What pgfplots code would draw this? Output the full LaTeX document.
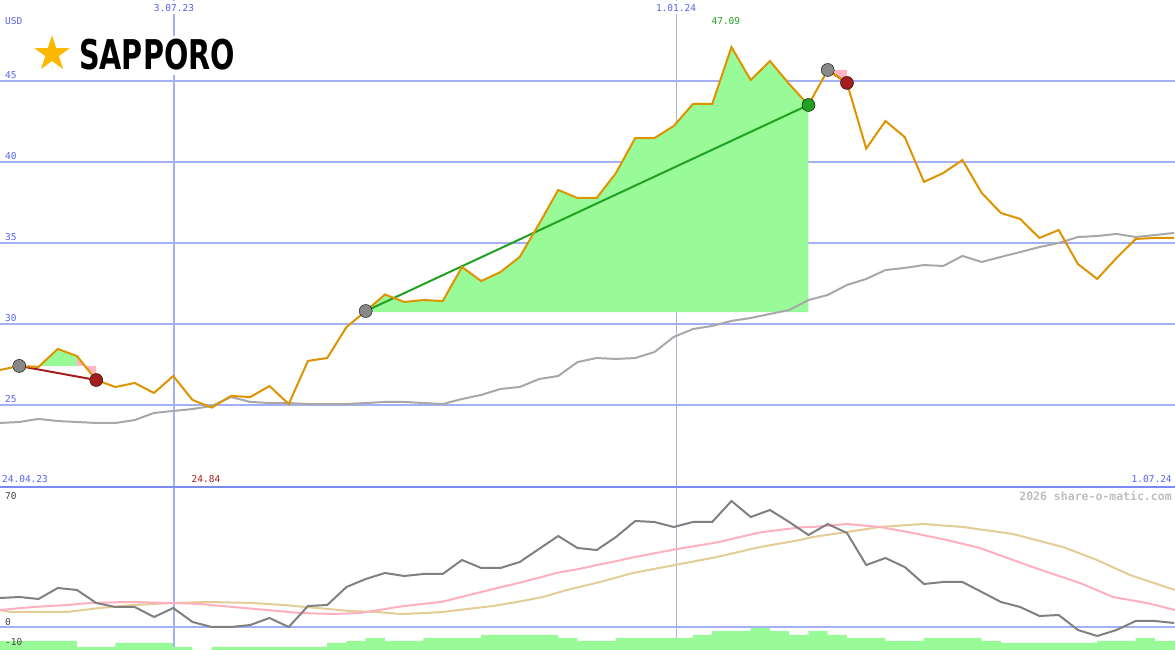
\documentclass[border=0pt]{standalone}
\usepackage{fontspec}
\setmainfont{DejaVu Sans Mono}
\newfontfamily\logofont[FakeStretch=0.70]{DejaVu Sans}
\newfontfamily\symfont{DejaVu Sans}
\usepackage{pgfplots}
\pgfplotsset{compat=1.18}

\definecolor{pricec}{RGB}{221,148,0}
\definecolor{gridblue}{RGB}{164,176,244}
\definecolor{sepblue}{RGB}{122,138,240}
\definecolor{vgrid}{RGB}{172,178,226}
\definecolor{lblblue}{RGB}{84,100,240}
\definecolor{mac}{RGB}{168,168,168}
\definecolor{momc}{RGB}{128,128,128}
\definecolor{pinkc}{RGB}{255,176,192}
\definecolor{tanc}{RGB}{228,204,150}
\definecolor{fillg}{RGB}{152,251,152}
\definecolor{fillp}{RGB}{255,182,193}
\definecolor{tradeg}{RGB}{34,160,34}
\definecolor{trader}{RGB}{165,30,30}
\definecolor{dotgray}{RGB}{136,136,136}
\definecolor{stargold}{RGB}{250,185,0}
\definecolor{wmark}{RGB}{190,190,190}
\definecolor{lblgray}{RGB}{70,70,70}
\newcommand\lbl{\fontsize{9.5}{10}\selectfont}

\begin{document}
\begin{tikzpicture}[x=1pt,y=1pt]
\useasboundingbox (0pt,0pt) rectangle (1175pt,650pt);

% ---------------- price panel ----------------
\begin{axis}[
  at={(0pt,163pt)}, anchor=south west, scale only axis,
  width=1175pt, height=487pt,
  xmin=0, xmax=61.04, ymin=19.938, ymax=50,
  axis line style={draw=none}, major tick length=0pt,
  ytick={25,30,35,40,45}, ymajorgrids,
  xtick={9.04}, xticklabels={3.07.23}, xmajorgrids,
  extra x ticks={35.12}, extra x tick labels={1.01.24},
  extra x tick style={major grid style={draw=vgrid, line width=1pt}},
  grid style={draw=gridblue, line width=2pt},
  xticklabel pos=upper,
  xticklabel style={anchor=north, yshift=-1pt, fill=white, inner xsep=1pt, inner ysep=3pt, font=\lbl, text=lblblue},
  yticklabel style={anchor=west, inner sep=0pt, xshift=5pt, yshift=6pt, font=\lbl, text=lblblue},
  /pgf/number format/assume math mode=true,
]
% trade fills
\addplot[fill=fillp, draw=none] coordinates {(1,27.41) (2,27.35) (2,27.41)};
\addplot[fill=fillg, draw=none] coordinates {(2,27.41) (2,27.35) (3,28.46) (4,28.02) (4,27.41)};
\addplot[fill=fillp, draw=none] coordinates {(4,27.41) (4,28.02) (5,26.54) (5,27.41)};
\addplot[fill=fillg, draw=none] coordinates {
(19,30.74) (19,30.80) (20,31.82) (21,31.36) (22,31.48) (23,31.42) (24,33.52) (25,32.65)
(26,33.21) (27,34.14) (28,36.17) (29,38.27) (30,37.78) (31,37.78) (32,39.32) (33,41.48)
(34,41.48) (35,42.22) (36,43.58) (37,43.58) (38,47.09) (39,45.06) (40,46.23) (41,44.81)
(42,43.52) (42,30.74)};
\addplot[fill=fillp, draw=none] coordinates {(43,45.68) (44,44.88) (44,45.68)};

% moving average
\addplot[mac, line width=2pt] coordinates {
(0,23.89) (1,23.95) (2,24.14) (3,24.01) (4,23.95) (5,23.89) (6,23.89) (7,24.07)
(8,24.51) (9,24.63) (10,24.75) (11,24.94) (12,25.49) (13,25.19) (14,25.12) (15,25.12)
(16,25.06) (17,25.06) (18,25.06) (19,25.12) (20,25.19) (21,25.19) (22,25.12) (23,25.06)
(24,25.37) (25,25.62) (26,25.99) (27,26.11) (28,26.60) (29,26.79) (30,27.65) (31,27.90)
(32,27.84) (33,27.90) (34,28.27) (35,29.20) (36,29.69) (37,29.88) (38,30.19) (39,30.37)
(40,30.62) (41,30.86) (42,31.48) (43,31.79) (44,32.41) (45,32.78) (46,33.33) (47,33.46)
(48,33.64) (49,33.58) (50,34.20) (51,33.83) (52,34.14) (53,34.44) (54,34.75) (55,35.00)
(56,35.37) (57,35.43) (58,35.56) (59,35.37) (60,35.49) (61,35.62)};

% trade lines and dots
\addplot[trader, line width=2pt] coordinates {(1,27.41) (5,26.54)};
\addplot[tradeg, line width=2pt] coordinates {(19,30.80) (42,43.52)};
\addplot[trader, line width=2pt] coordinates {(43,45.68) (44,44.88)};
\addplot[only marks, mark=*, mark size=6.5pt, mark options={draw=none, fill=dotgray}] coordinates {(1,27.41) (19,30.80) (43,45.68)};
\addplot[only marks, mark=*, mark size=6.5pt, mark options={draw=none, fill=trader}] coordinates {(5,26.54) (44,44.88)};
\addplot[only marks, mark=*, mark size=6.5pt, mark options={draw=none, fill=tradeg}] coordinates {(42,43.52)};

% price
\addplot[pricec, line width=2pt] coordinates {
(0,27.16) (1,27.41) (2,27.35) (3,28.46) (4,28.02) (5,26.54) (6,26.11) (7,26.36)
(8,25.74) (9,26.79) (10,25.31) (11,24.84) (12,25.56) (13,25.49) (14,26.17) (15,25.06)
(16,27.72) (17,27.90) (18,29.81) (19,30.80) (20,31.82) (21,31.36) (22,31.48) (23,31.42)
(24,33.52) (25,32.65) (26,33.21) (27,34.14) (28,36.17) (29,38.27) (30,37.78) (31,37.78)
(32,39.32) (33,41.48) (34,41.48) (35,42.22) (36,43.58) (37,43.58) (38,47.09) (39,45.06)
(40,46.23) (41,44.81) (42,43.52) (43,45.68) (44,44.88) (45,40.83) (46,42.53) (47,41.54)
(48,38.77) (49,39.32) (50,40.12) (51,38.09) (52,36.85) (53,36.48) (54,35.31) (55,35.80)
(56,33.70) (57,32.78) (58,34.07) (59,35.25) (60,35.31) (61,35.31)};

% texts
\node[anchor=west, font=\lbl, text=lblblue, inner sep=0pt] at (axis cs:0.26,48.70) {USD};
\node[font=\lbl, text=tradeg, inner sep=0pt] at (axis cs:37.71,48.70) {47.09};
\node[anchor=west, font=\lbl, text=lblblue, inner sep=0pt] at (axis cs:0.10,20.43) {24.04.23};
\node[font=\lbl, text=trader, inner sep=0pt] at (axis cs:10.70,20.43) {24.84};
\node[anchor=east, font=\lbl, text=lblblue, inner sep=0pt] at (axis cs:60.88,20.43) {1.07.24};
\node[text=stargold, font=\symfont\fontsize{47}{47}\selectfont, inner sep=0pt] at (axis cs:2.75,46.73) {★};
\node[anchor=west, fill=white, inner xsep=0pt, inner ysep=4pt, font=\logofont\bfseries\fontsize{41}{41}\selectfont] at (axis cs:4.10,46.6) {SAPPORO};
\end{axis}

% ---------------- indicator panel ----------------
\begin{axis}[
  at={(0pt,0pt)}, anchor=south west, scale only axis,
  width=1175pt, height=163pt,
  xmin=0, xmax=61.04, ymin=-11.5, ymax=70,
  clip=false,
  axis line style={draw=none}, major tick length=0pt,
  ytick={0}, ymajorgrids,
  xtick={9.04}, xticklabels={}, xmajorgrids,
  extra x ticks={35.12}, extra x tick labels={},
  extra x tick style={major grid style={draw=vgrid, line width=1pt}},
  grid style={draw=gridblue, line width=2pt},
  yticklabel style={anchor=west, inner sep=0pt, xshift=5pt, yshift=5pt, font=\lbl, text=lblgray},
  /pgf/number format/assume math mode=true,
]
\addplot[const plot, fill=fillg, draw=none] coordinates {
(0,-11.5) (0,-7) (1,-7) (2,-7) (3,-7) (4,-10) (5,-10) (6,-8) (7,-8) (8,-8) (9,-10)
(10,-11.5) (11,-10) (12,-10) (13,-10) (14,-10) (15,-10) (16,-10) (17,-8) (18,-7)
(19,-5.5) (20,-7) (21,-7) (22,-5.5) (23,-5.5) (24,-5.5) (25,-4) (26,-4) (27,-4)
(28,-4) (29,-5.5) (30,-7) (31,-7) (32,-5.5) (33,-5.5) (34,-5.5) (35,-5.5) (36,-4)
(37,-2) (38,-2) (39,-0.5) (40,-2) (41,-4) (42,-2) (43,-4) (44,-5.5) (45,-5.5)
(46,-7) (47,-7) (48,-5.5) (49,-5.5) (50,-5.5) (51,-7) (52,-8) (53,-8) (54,-8)
(55,-8) (56,-8) (57,-7) (58,-7) (59,-5.5) (60,-7) (61.04,-7) (61.04,-11.5)};

\addplot[tanc, line width=2pt] coordinates {
(0,8.5) (0.52,7.5) (3.48,7.5) (5.19,9.5) (6.91,11) (8.99,12) (10.75,12.5) (13.14,12)
(14.70,11) (16.47,9.5) (18.18,8) (19.58,7.5) (20.78,6.5) (22.18,7) (23.01,7.5)
(24.26,9) (25.61,10.5) (26.86,12.5) (28.21,15) (29.45,18.5) (31.17,22.5) (32.88,27)
(35.06,31) (37.25,35) (39.48,40) (41.56,43.5) (42.23,45) (44.0,47.5) (45.71,50)
(47.95,51.5) (50.03,50) (52.62,46.5) (55.22,40) (56.99,33.5) (58.70,26) (61.04,18.5)};

\addplot[pinkc, line width=2pt] coordinates {
(0,8.5) (1.71,10) (3.48,11) (4.68,12) (6.60,12.5) (8.99,12) (10.39,11.5) (12.10,10)
(13.87,8.5) (15.58,7) (17.30,6.5) (18.70,7) (20.78,10.2) (23.01,12.7) (24.05,15.2)
(25.09,17.7) (25.97,19.8) (27.01,22.2) (28.05,24.8) (28.99,27.2) (29.97,28.8)
(31.01,31) (32.05,33) (32.88,34.8) (35.06,38.8) (37.25,42.3) (39.48,47.3) (41.56,49.8)
(42.23,50) (44.0,51.5) (45.71,50) (47.43,47) (49.19,43.5) (50.91,39.5) (52.62,33.5)
(54.39,27.5) (56.10,22) (57.82,15) (59.58,12) (61.04,8.5)};

\addplot[momc, line width=2pt] coordinates {
(0,14.5) (1,15) (2,14) (3,19.5) (4,18.5) (5,12) (6,10) (7,10) (8,5) (9,9.5)
(10,2.5) (11,0) (12,0) (13,1) (14,4.5) (15,0) (16,10.5) (17,11) (18,20) (19,24)
(20,27) (21,25.5) (22,26.5) (23,26.5) (24,33.5) (25,29.5) (26,29.5) (27,32.5)
(28,39) (29,45.5) (30,39.5) (31,38.5) (32,45) (33,53) (34,52.5) (35,50) (36,52.5)
(37,52.5) (38,63) (39,55) (40,58.5) (41,52.5) (42,46) (43,51.5) (44,47) (45,31)
(46,34.5) (47,30) (48,21.5) (49,22.5) (50,22.5) (51,17.5) (52,12.5) (53,10)
(54,5.5) (55,6) (56,-1.5) (57,-4.5) (58,-1.5) (59,3) (60,3) (61,2)};

\draw[sepblue, line width=2pt] (axis cs:0,70) -- (axis cs:61.04,70);
\node[anchor=west, font=\lbl, text=lblgray, inner sep=0pt] at (axis cs:0.26,65.5) {70};
\node[anchor=west, font=\lbl, text=lblgray, inner sep=0pt] at (axis cs:0.26,-7.5) {-10};
\node[anchor=east, font=\bfseries\fontsize{11.5}{12}\selectfont, text=wmark, inner sep=0pt] at (axis cs:60.88,65.5) {2026 share-o-matic.com};
\end{axis}
\end{tikzpicture}
\end{document}
